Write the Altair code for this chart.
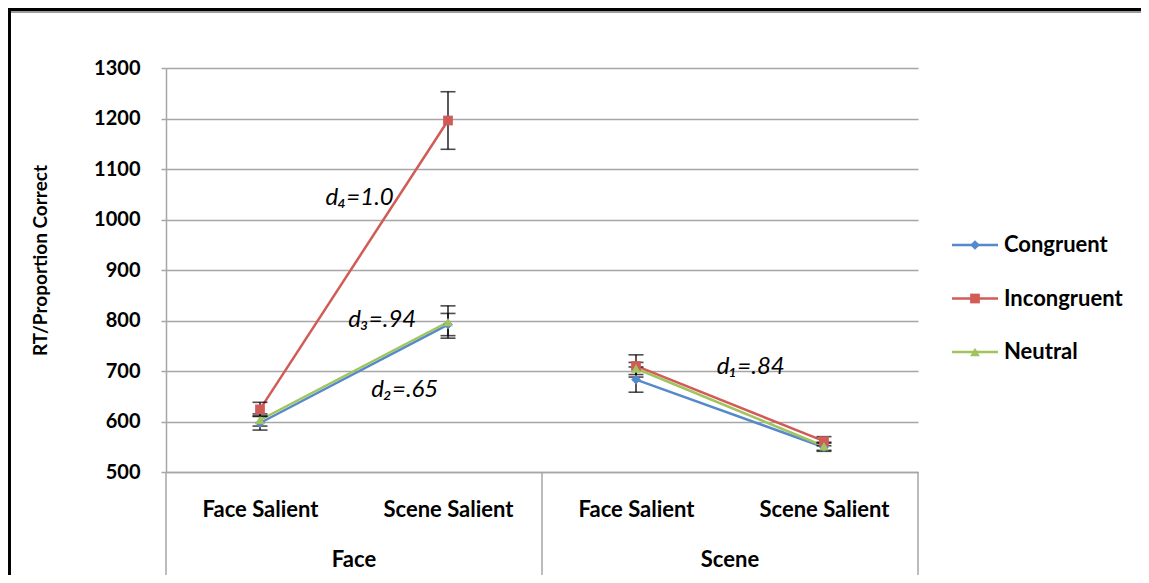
import altair as alt
import pandas as pd

# ---------------- data ----------------
groups = ["Face", "Face", "Scene", "Scene"]
conditions = ["Face Salient", "Scene Salient", "Face Salient", "Scene Salient"]
series = ["Congruent", "Incongruent", "Neutral"]
congruent = [597, 792, 683, 549]
incongruent = [624, 1196, 710, 561]
neutral = [603, 797, 705, 551]
err_congruent = [14, 22, 25, 8]
err_incongruent = [14, 57, 22, 9]
err_neutral = [12, 32, 12, 8]
colors = ["#5689CC", "#D15B57", "#A0C45E"]
shapes = ["diamond", "square", "triangle-up"]
y_ticks = [500, 600, 700, 800, 900, 1000, 1100, 1200, 1300]

ann_text = ["d\u2084=1.0", "d\u2083=.94", "d\u2082=.65", "d\u2081=.84"]
ann_x = [0.53, 0.65, 0.77, 2.61]
ann_y = [1043, 801, 662, 708]

# ---------------- tables ----------------
values = {"Congruent": congruent, "Incongruent": incongruent, "Neutral": neutral}
errors = {"Congruent": err_congruent, "Incongruent": err_incongruent, "Neutral": err_neutral}
rows = []
for s in series:
    for i, (g, c) in enumerate(zip(groups, conditions)):
        v = values[s][i]
        e = errors[s][i]
        rows.append({"series": s, "group": g, "cond": c, "idx": i,
                     "value": v, "lo": v - e, "hi": v + e})
df = pd.DataFrame(rows)

grp_rows = []
for g in dict.fromkeys(groups):
    ids = [i for i, gg in enumerate(groups) if gg == g]
    grp_rows.append({"group": g, "center": sum(ids) / len(ids)})
grp_df = pd.DataFrame(grp_rows)

bounds = sorted({min(i for i, gg in enumerate(groups) if gg == g) - 0.5 for g in groups}
                | {max(i for i, gg in enumerate(groups) if gg == g) + 0.5 for g in groups})
bound_df = pd.DataFrame({"b": bounds})

ann_df = pd.DataFrame({"text": ann_text, "x": ann_x, "y": ann_y})
leg_df = pd.DataFrame({"series": series})

W, H = 752, 404
xscale = alt.Scale(domain=[-0.5, len(groups) - 0.5], nice=False, zero=False)
yscale = alt.Scale(domain=[500, 1300], nice=False, zero=False)
cscale = alt.Scale(domain=series, range=colors)
sscale = alt.Scale(domain=series, range=shapes)
label_expr = "[" + ",".join("'%s'" % c for c in conditions) + "][datum.value]"

FONT = "Lato"
GRAY = "#a6a6a6"

base = alt.Chart(df)

x_enc = alt.X("idx:Q", scale=xscale,
              axis=alt.Axis(values=list(range(len(groups))), labelExpr=label_expr,
                            title=None, grid=False, ticks=False, domain=True,
                            domainColor=GRAY, domainWidth=1.5,
                            labelFont=FONT, labelFontWeight="bold", labelFontSize=22,
                            labelColor="#000", labelPadding=37, labelBaseline="middle",
                            labelAngle=0))
y_enc = alt.Y("value:Q", scale=yscale,
              axis=alt.Axis(values=y_ticks, format="d", title="RT/Proportion Correct",
                            grid=True, gridColor=GRAY, gridWidth=1.5,
                            domainColor=GRAY, domainWidth=1.5,
                            tickColor=GRAY, tickSize=5, tickWidth=1.5,
                            labelFont=FONT, labelFontWeight="bold", labelFontSize=20,
                            labelColor="#000", labelPadding=21,
                            titleFont=FONT, titleFontWeight="bold", titleFontSize=19,
                            titleColor="#000", titleAngle=270, titleX=-126, titleY=H / 2 - 10,
                            titleAlign="center", titleBaseline="middle"))

lines = base.mark_line(strokeWidth=2.5).encode(
    x=x_enc, y=y_enc,
    color=alt.Color("series:N", scale=cscale, legend=None),
    detail="group:N",
)

err_rule = base.mark_rule(color="#000", strokeWidth=1.3).encode(
    x=alt.X("idx:Q", scale=xscale),
    y=alt.Y("lo:Q", scale=yscale),
    y2="hi:Q",
)
cap_lo = base.mark_tick(color="#000", thickness=1.6, size=15, orient="horizontal").encode(
    x=alt.X("idx:Q", scale=xscale), y=alt.Y("lo:Q", scale=yscale))
cap_hi = base.mark_tick(color="#000", thickness=1.6, size=15, orient="horizontal").encode(
    x=alt.X("idx:Q", scale=xscale), y=alt.Y("hi:Q", scale=yscale))

points = base.mark_point(filled=True, size=95, opacity=1, strokeWidth=0.8).encode(
    x=alt.X("idx:Q", scale=xscale),
    y=alt.Y("value:Q", scale=yscale),
    color=alt.Color("series:N", scale=cscale, legend=None),
    shape=alt.Shape("series:N", scale=sscale, legend=None),
)

annots = alt.Chart(ann_df).mark_text(font=FONT, fontStyle="italic", fontSize=24,
                                     color="#000", align="center", baseline="middle").encode(
    x=alt.X("x:Q", scale=xscale), y=alt.Y("y:Q", scale=yscale), text="text:N")

grp_text = alt.Chart(grp_df).mark_text(font=FONT, fontWeight="bold", fontSize=22,
                                       color="#000", align="center", baseline="middle").encode(
    x=alt.X("center:Q", scale=xscale), y=alt.value(H + 88), text="group:N")

seps = alt.Chart(bound_df).mark_rule(color=GRAY, strokeWidth=1.5).encode(
    x=alt.X("b:Q", scale=xscale), y=alt.value(H), y2=alt.value(H + 125))

frame_top = alt.Chart(leg_df).mark_rule(color="#000", strokeWidth=3).encode(
    x=alt.value(-158), x2=alt.value(W + 240), y=alt.value(-58.5))
frame_shadow = alt.Chart(leg_df).mark_rule(color="#9a9a9a", strokeWidth=1.5).encode(
    x=alt.value(-156), x2=alt.value(W + 240), y=alt.value(-56))
frame_left = alt.Chart(leg_df).mark_rule(color="#000", strokeWidth=2.5).encode(
    x=alt.value(-156.5), y=alt.value(-60), y2=alt.value(H + 125))

main = alt.layer(seps, lines, err_rule, cap_lo, cap_hi, points, annots, grp_text,
                 frame_top, frame_shadow, frame_left)

ly = alt.Y("series:N", scale=alt.Scale(type="point", domain=series, range=[177, 284], padding=0),
           axis=None)
leg_lines = alt.Chart(leg_df).mark_rule(strokeWidth=2.5).encode(
    x=alt.value(786), x2=alt.value(832), y=ly,
    color=alt.Color("series:N", scale=cscale, legend=None))
leg_pts = alt.Chart(leg_df).mark_point(filled=True, size=95, opacity=1).encode(
    x=alt.value(809), y=ly,
    color=alt.Color("series:N", scale=cscale, legend=None),
    shape=alt.Shape("series:N", scale=sscale, legend=None))
leg_txt = alt.Chart(leg_df).mark_text(font=FONT, fontWeight="bold", fontSize=22, color="#000",
                                      align="left", baseline="middle").encode(
    x=alt.value(838), y=ly, text="series:N")
legend = alt.layer(leg_lines, leg_pts, leg_txt)

chart = alt.layer(main, legend).resolve_scale(y="independent").properties(
    width=W, height=H,
    autosize=alt.AutoSizeParams(type="none"),
    padding={"left": 158, "top": 60, "right": 223, "bottom": 103},
    background="white",
).configure_view(strokeWidth=0)

chart.save("out.html", embed_options={"renderer": "svg", "actions": False})
